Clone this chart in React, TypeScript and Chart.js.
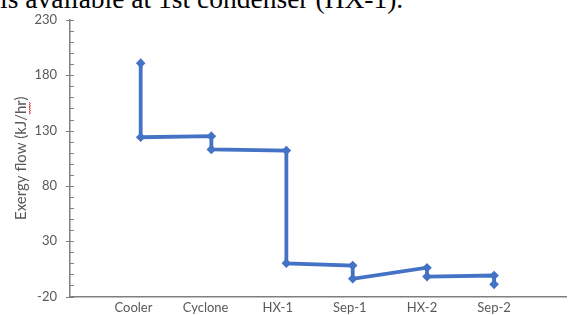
import React, { useEffect, useRef } from "react";
import { Chart, registerables } from "chart.js";

Chart.register(...registerables);

const stages = ["Cooler", "Cyclone", "HX-1", "Sep-1", "HX-2", "Sep-2"];
const stageTickValues = [1, 2, 3, 4, 5, 6];
const stagePositions = [1.1, 2.08, 3.12, 4.04, 5.07, 6.0];
const inletExergy = [191, 125, 112, 8, 6, -1];
const outletExergy = [124, 113, 10, -4, -2, -9];
const yTicks = [-20, 30, 80, 130, 180, 230];
const yMinorStep = 10;

const AXIS_COLOR = "#7f7f7f";
const TEXT_COLOR = "#595959";
const LINE_COLOR = "#4472C4";

const tickMarksPlugin = {
  id: "tickMarks",
  afterDraw(chart: any) {
    const ctx = chart.ctx;
    const y = chart.scales.y;
    const x0 = chart.chartArea.left;
    ctx.save();
    ctx.strokeStyle = AXIS_COLOR;
    ctx.lineWidth = 1;
    for (let v = yTicks[0]; v <= yTicks[yTicks.length - 1]; v += yMinorStep) {
      const py = Math.round(y.getPixelForValue(v)) + 0.5;
      const major = yTicks.includes(v);
      ctx.beginPath();
      ctx.moveTo(major ? x0 - 4 : x0, py);
      ctx.lineTo(x0 + 4, py);
      ctx.stroke();
    }
    // spell-check squiggle under "hr" of the rotated axis title
    const ys = y.top + (y.bottom - y.top) / 2 - 56;
    ctx.strokeStyle = "#e03030";
    ctx.lineWidth = 1;
    ctx.beginPath();
    for (let i = 0; i <= 10; i++) {
      const px = 29 + (i % 2 === 0 ? 0 : 1.5);
      const py = ys + i * 1.2;
      if (i === 0) ctx.moveTo(px, py);
      else ctx.lineTo(px, py);
    }
    ctx.stroke();
    ctx.restore();
  },
};

export default function App() {
  const ref = useRef<HTMLCanvasElement | null>(null);

  useEffect(() => {
    if (!ref.current) return;
    const points: { x: number; y: number }[] = [];
    stagePositions.forEach((p, i) => {
      points.push({ x: p, y: inletExergy[i] });
      points.push({ x: p, y: outletExergy[i] });
    });
    const chart = new Chart(ref.current, {
      type: "line",
      data: {
        datasets: [
          {
            data: points,
            borderColor: LINE_COLOR,
            backgroundColor: LINE_COLOR,
            borderWidth: 3.8,
            pointStyle: "rectRot",
            pointRadius: 4.8,
            pointBorderWidth: 0,
            pointBackgroundColor: LINE_COLOR,
            tension: 0,
            clip: false as any,
          },
        ],
      },
      options: {
        responsive: false,
        animation: false,
        layout: { padding: { left: 0, right: 1, top: 20, bottom: 0 } },
        plugins: {
          legend: { display: false },
          tooltip: { enabled: false },
        },
        scales: {
          x: {
            type: "linear",
            position: "bottom",
            min: 0.12,
            max: 7,
            grid: { display: false, drawTicks: false },
            border: { display: true, color: AXIS_COLOR, width: 1.5 },
            afterBuildTicks: (scale: any) => {
              scale.ticks = stageTickValues.map((v) => ({ value: v }));
            },
            afterFit: (scale: any) => {
              scale.height = 18.5;
            },
            ticks: {
              autoSkip: false,
              maxRotation: 0,
              padding: 4,
              color: TEXT_COLOR,
              font: { family: "Lato", size: 13 },
              callback: (v: any) => stages[Math.round(Number(v)) - 1] ?? "",
            },
          },
          y: {
            min: -20,
            max: 230,
            grid: {
              display: true,
              drawOnChartArea: false,
              drawTicks: true,
              tickLength: 13,
              color: "rgba(0,0,0,0)",
            },
            border: { display: true, color: AXIS_COLOR, width: 1.5 },
            afterBuildTicks: (scale: any) => {
              scale.ticks = yTicks.map((v) => ({ value: v }));
            },
            afterFit: (scale: any) => {
              scale.width = 70;
            },
            ticks: {
              padding: 0,
              color: TEXT_COLOR,
              font: { family: "Lato", size: 13 },
            },
            title: {
              display: true,
              text: "Exergy flow (kJ/hr)",
              color: TEXT_COLOR,
              font: { family: "Lato", size: 15, weight: "normal" },
              padding: { top: 12, bottom: 0 },
            },
          },
        },
      },
      plugins: [tickMarksPlugin],
    });
    return () => chart.destroy();
  }, []);

  return (
    <div
      style={{
        position: "absolute",
        left: 0,
        top: 0,
        width: 571,
        height: 315,
        overflow: "hidden",
        background: "#fff",
      }}
    >
      <div
        style={{
          position: "absolute",
          left: 0,
          top: -15.5,
          fontFamily: "'Liberation Serif', serif",
          fontSize: 27.5,
          lineHeight: "27.5px",
          whiteSpace: "nowrap",
          color: "#000",
        }}
      >
        is available at 1st condenser (HX-1).
      </div>
      <canvas
        ref={ref}
        width={571}
        height={315}
        style={{ position: "absolute", left: 0, top: 0 }}
      />
    </div>
  );
}
